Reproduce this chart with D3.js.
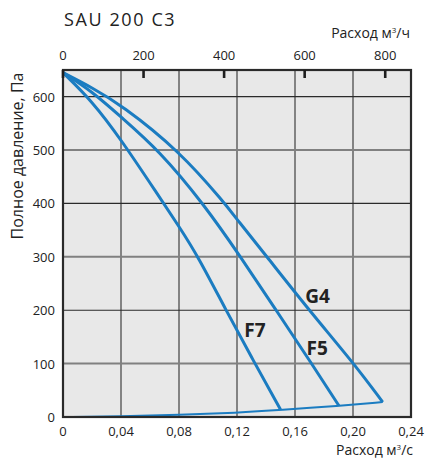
<!DOCTYPE html>
<html>
<head>
<meta charset="utf-8">
<script src="https://cdn.jsdelivr.net/npm/d3@7"></script>
<style>
  body { margin: 0; background: #fff; }
  text { font-family: "Open Sans", "Noto Sans", sans-serif; fill: #222; }
</style>
</head>
<body>
<div id="chart"></div>
<script>
// fan curves, flow in m3/s, pressure in Pa
const g4 = [[0, 645], [0.02, 617], [0.04, 585], [0.08, 499], [0.1117, 400], [0.12, 370],
  [0.1407, 300], [0.1697, 200], [0.2007, 100], [0.2205, 28]];
const f5 = [[0, 645], [0.02, 610], [0.04, 562], [0.066, 500], [0.0968, 400], [0.1225, 300],
  [0.147, 200], [0.1715, 100], [0.1903, 21]];
const f7 = [[0, 645], [0.02, 592], [0.04, 520], [0.0655, 416], [0.08, 357], [0.0933, 300],
  [0.1124, 200], [0.131, 107], [0.150, 14]];
const system = [[0, 0], [0.04, 1], [0.08, 4], [0.12, 8], [0.15, 13], [0.19, 21], [0.2205, 28]];

const curveNames = ["G4", "F5", "F7"];
const labelAt = [[0.167, 214], [0.168, 116], [0.125, 150]];

const flowTicks = [0, 0.04, 0.08, 0.12, 0.16, 0.20, 0.24];
const hourTicks = [0, 200, 400, 600, 800];
const pressTicks = [0, 100, 200, 300, 400, 500, 600];

const W = 430, H = 459;
const margin = { top: 70, right: 19, bottom: 42, left: 63 };

const svg = d3.select("#chart").append("svg")
  .attr("width", W).attr("height", H);

const x = d3.scaleLinear().domain([0, 0.24]).range([margin.left, W - margin.right]);
const xh = d3.scaleLinear().domain([0, 0.24 * 3600]).range(x.range());
const y = d3.scaleLinear().domain([0, 650]).range([H - margin.bottom, margin.top]);

const [x0, x1] = x.range();
const [y0, y1] = y.range();

svg.append("rect")
  .attr("x", x0).attr("y", y1)
  .attr("width", x1 - x0).attr("height", y0 - y1)
  .attr("fill", "#e8e8e8");

// grid
svg.append("g").selectAll("line")
  .data(flowTicks.slice(1, -1))
  .join("line")
  .attr("x1", d => x(d)).attr("x2", d => x(d))
  .attr("y1", y1).attr("y2", y0)
  .attr("stroke", "#1e1e1e").attr("stroke-width", 1);

svg.append("g").selectAll("line")
  .data(pressTicks.slice(1))
  .join("line")
  .attr("x1", x0).attr("x2", x1)
  .attr("y1", d => y(d)).attr("y2", d => y(d))
  .attr("stroke", d => (d / 100) % 2 ? "#808080" : "#2a2a2a")
  .attr("stroke-width", d => (d / 100) % 2 ? 2 : 1.2);

// curves (B-spline smooths the read-off points)
const line = d3.line().x(d => x(d[0])).y(d => y(d[1])).curve(d3.curveBasis);

svg.append("g").selectAll("path")
  .data([g4, f5, f7])
  .join("path")
  .attr("d", line)
  .attr("fill", "none")
  .attr("stroke", "#1b7cc1")
  .attr("stroke-width", 3)
  .attr("stroke-linejoin", "round");

svg.append("path")
  .attr("d", line(system))
  .attr("fill", "none")
  .attr("stroke", "#1b7cc1")
  .attr("stroke-width", 2);

svg.append("g").selectAll("text")
  .data(curveNames)
  .join("text")
  .attr("x", (d, i) => x(labelAt[i][0]))
  .attr("y", (d, i) => y(labelAt[i][1]))
  .attr("font-size", 19)
  .attr("font-weight", "bold")
  .text(d => d);

// frame
svg.append("rect")
  .attr("x", x0).attr("y", y1)
  .attr("width", x1 - x0).attr("height", y0 - y1)
  .attr("fill", "none")
  .attr("stroke", "#2a2a2a").attr("stroke-width", 2.2);

// bottom axis
const fmtFlow = d => d === 0 ? "0" : d3.format(".2f")(d).replace(".", ",");
svg.append("g").selectAll("text")
  .data(flowTicks)
  .join("text")
  .attr("x", d => x(d)).attr("y", y0 + 19)
  .attr("text-anchor", "middle")
  .attr("font-size", 13)
  .attr("fill", "#333")
  .text(fmtFlow);

// top axis, m3/h
svg.append("g").selectAll("line")
  .data(hourTicks)
  .join("line")
  .attr("x1", d => xh(d)).attr("x2", d => xh(d))
  .attr("y1", y1).attr("y2", y1 + 8)
  .attr("stroke", "#1e1e1e").attr("stroke-width", 2.6);

svg.append("g").selectAll("text")
  .data(hourTicks)
  .join("text")
  .attr("x", d => xh(d)).attr("y", y1 - 10)
  .attr("text-anchor", "middle")
  .attr("font-size", 13)
  .attr("fill", "#333")
  .text(d => d);

// left axis
svg.append("g").selectAll("text")
  .data(pressTicks)
  .join("text")
  .attr("x", x0 - 8).attr("y", d => y(d) + 5)
  .attr("text-anchor", "end")
  .attr("font-size", 13)
  .attr("fill", "#333")
  .text(d => d);

// titles
svg.append("text")
  .attr("x", 64).attr("y", 26)
  .attr("font-size", 18)
  .attr("letter-spacing", 1.6)
  .text("SAU 200 C3");

const unitLabel = (tx, ty, tail) => {
  const t = svg.append("text")
    .attr("x", tx).attr("y", ty)
    .attr("text-anchor", "end")
    .attr("font-size", 14);
  t.append("tspan").text("Расход м");
  t.append("tspan").attr("font-size", 8).attr("dy", -5).text("3");
  t.append("tspan").attr("dy", 5).text("/" + tail);
};
unitLabel(410, 38, "ч");
unitLabel(413, 455, "с");

svg.append("text")
  .attr("transform", `translate(23,156) rotate(-90)`)
  .attr("text-anchor", "middle")
  .attr("font-size", 16)
  .text("Полное давление, Па");
</script>
</body>
</html>
